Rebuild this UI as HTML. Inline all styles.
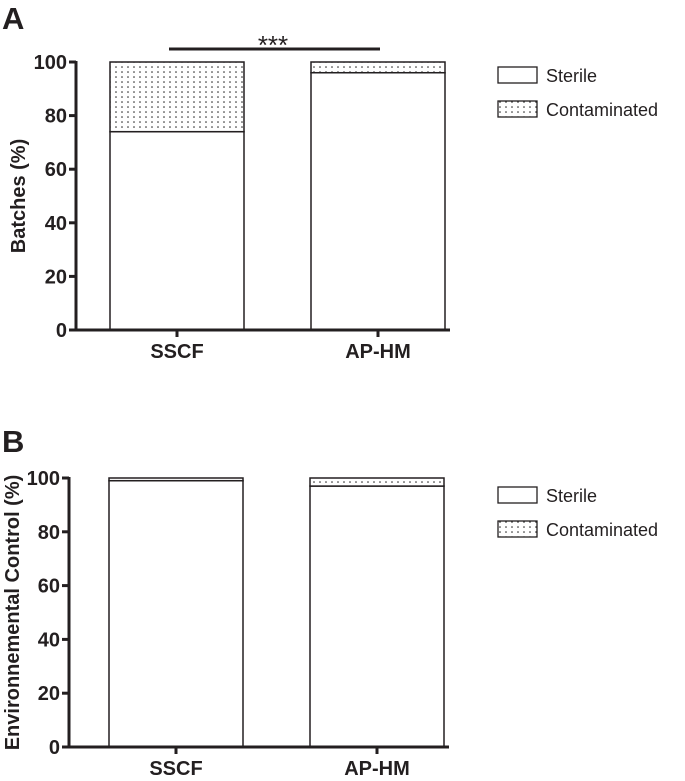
<!DOCTYPE html>
<html><head><meta charset="utf-8"><style>
body{margin:0;background:#fff;}
svg text{font-family:"Liberation Sans",Arial,sans-serif;fill:#231f20;}
</style></head><body>
<svg width="685" height="776" viewBox="0 0 685 776" xmlns="http://www.w3.org/2000/svg">
<defs>
<pattern id="dots" width="6" height="5" patternUnits="userSpaceOnUse">
<rect width="6" height="5" fill="#fff"/><circle cx="2" cy="2" r="0.8" fill="#222"/>
</pattern>
</defs>
<g id="chartA"></g>
<g id="chartB"></g>
</svg>
<script>
const categories = ["SSCF", "AP-HM"];
const sterileA = [74, 96];
const contaminatedA = [26, 4];
const sterileB = [99, 97];
const contaminatedB = [1, 3];
const yTicks = [0, 20, 40, 60, 80, 100];
const NS = "http://www.w3.org/2000/svg";
function mk(parent, tag, attrs, text){
  const e = document.createElementNS(NS, tag);
  for (const k in attrs) e.setAttribute(k, attrs[k]);
  if (text !== undefined) e.textContent = text;
  parent.appendChild(e); return e;
}
function draw(g, cfg, sterile, contam){
  const y = v => cfg.y0 - (cfg.y0 - cfg.y100) * v / 100;
  categories.forEach((c, i) => {
    const x = cfg.bars[i], cx = x + cfg.bw/2;
    const s = mk(g, "rect", {x:x, y:y(sterile[i]), width:cfg.bw, height:y(0)-y(sterile[i]), fill:"#fff", stroke:"#231f20","stroke-width":1.5});
    
    
    const ct = mk(g, "rect", {x:x, y:y(sterile[i]+contam[i]), width:cfg.bw, height:y(sterile[i])-y(sterile[i]+contam[i]), fill:"url(#dots)", stroke:"#231f20","stroke-width":1.5});
    
    
    const tk = mk(g, "line", {x1:cx, y1:cfg.y0, x2:cx, y2:cfg.y0+7, stroke:"#231f20","stroke-width":3});
    
    
    const lb = mk(g, "text", {x:cx, y:cfg.y0+28, "text-anchor":"middle","font-size":20,"font-weight":"bold"}, c);
    
    
  });
  const ax = mk(g, "line", {x1:cfg.ax, y1:cfg.y100-1, x2:cfg.ax, y2:cfg.y0+1.5, stroke:"#231f20","stroke-width":3});
  
  
  const xa = mk(g, "line", {x1:cfg.ax-1.5, y1:cfg.y0, x2:cfg.bars[1]+cfg.bw+5, y2:cfg.y0, stroke:"#231f20","stroke-width":3});
  
  
  yTicks.forEach(t => {
    const tl = mk(g, "line", {x1:cfg.ax-7, y1:y(t), x2:cfg.ax, y2:y(t), stroke:"#231f20","stroke-width":3});
    
    
    const tx = mk(g, "text", {x:cfg.ax-9, y:y(t)+7, "text-anchor":"end","font-size":20,"font-weight":"bold"}, String(t));
    
    
  });
  const yt = mk(g, "text", {transform:`translate(${cfg.titleX},${(cfg.y0+cfg.y100)/2}) rotate(-90)`, "text-anchor":"middle","font-size":20,"font-weight":"bold"}, cfg.title);
  
  
  const labels = ["Sterile", "Contaminated"], fills = ["#fff", "url(#dots)"];
  labels.forEach((l, i) => {
    const by = cfg.legY + i*34;
    const r = mk(g, "rect", {x:498, y:by, width:39, height:16, fill:fills[i], stroke:"#231f20","stroke-width":1.3});
    
    
    const t = mk(g, "text", {x:546, y:by+15, "font-size":18}, l);
    
    
  });
  const p = mk(g, "text", {x:cfg.panelX, y:cfg.panelY, "font-size":31,"font-weight":"bold"}, cfg.panel);
  
  
}
const gA = document.getElementById("chartA"), gB = document.getElementById("chartB");
draw(gA, {ax:76, y0:330, y100:62, bars:[110,311], bw:134, title:"Batches (%)", titleX:25, legY:67, panel:"A", panelX:2, panelY:29}, sterileA, contaminatedA);
draw(gB, {ax:69, y0:747, y100:478, bars:[109,310], bw:134, title:"Environnemental Control (%)", titleX:19, legY:487, panel:"B", panelX:2, panelY:452}, sterileB, contaminatedB);
const sl = mk(gA, "line", {x1:169, y1:49, x2:380, y2:49, stroke:"#231f20","stroke-width":3});


const st = mk(gA, "text", {x:273, y:54, "text-anchor":"middle","font-size":26}, "***");


</script>
</body></html>
